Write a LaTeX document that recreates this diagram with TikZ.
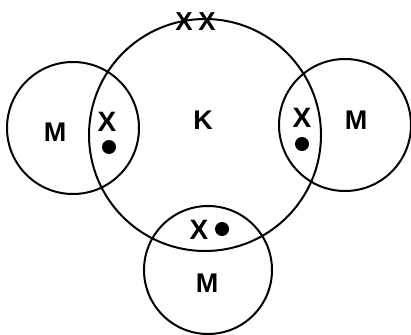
\documentclass[tikz,border=0pt]{standalone}
\usepackage{fontspec}
\setmainfont{Liberation Sans}
\usepackage{tikz}

\begin{document}
\begin{tikzpicture}[x=1pt,y=-1pt,line width=2pt,
	lbl/.style={font=\fontsize{27}{29}\selectfont\bfseries,inner sep=0pt},
	elec/.style={font=\fontsize{28}{30}\selectfont\bfseries,inner sep=0pt}]
	\useasboundingbox (0,0) rectangle (411,334);
	% atoms
	\coordinate (K) at (205,135);
	\coordinate (ML) at (73,128);
	\coordinate (MR) at (345,125);
	\coordinate (MB) at (208,270);
	\draw (K) circle (116pt);
	\draw (ML) circle (66pt);
	\draw (MR) circle (66pt);
	\draw (MB) circle (64pt);
	\node[lbl] (k) at (203,120) {K};
	\node[lbl] (ml) at (55,132) {M};
	\node[lbl] (mr) at (356,120) {M};
	\node[lbl] (mb) at (207,283) {M};
	% shared pairs
	\node[elec] (xl) at (107,122) {X};
	\fill (109,147) circle (7pt);
	\node[elec] (xr) at (302,118) {X};
	\fill (302,144) circle (7pt);
	\node[elec] (xb) at (199,230) {X};
	\fill (222,229) circle (7pt);
	% lone pair
	\node[elec,font=\fontsize{26}{28}\selectfont\bfseries] (x1) at (184,22) {X};
	\node[elec,font=\fontsize{26}{28}\selectfont\bfseries] (x2) at (207,22) {X};
\end{tikzpicture}
\end{document}
